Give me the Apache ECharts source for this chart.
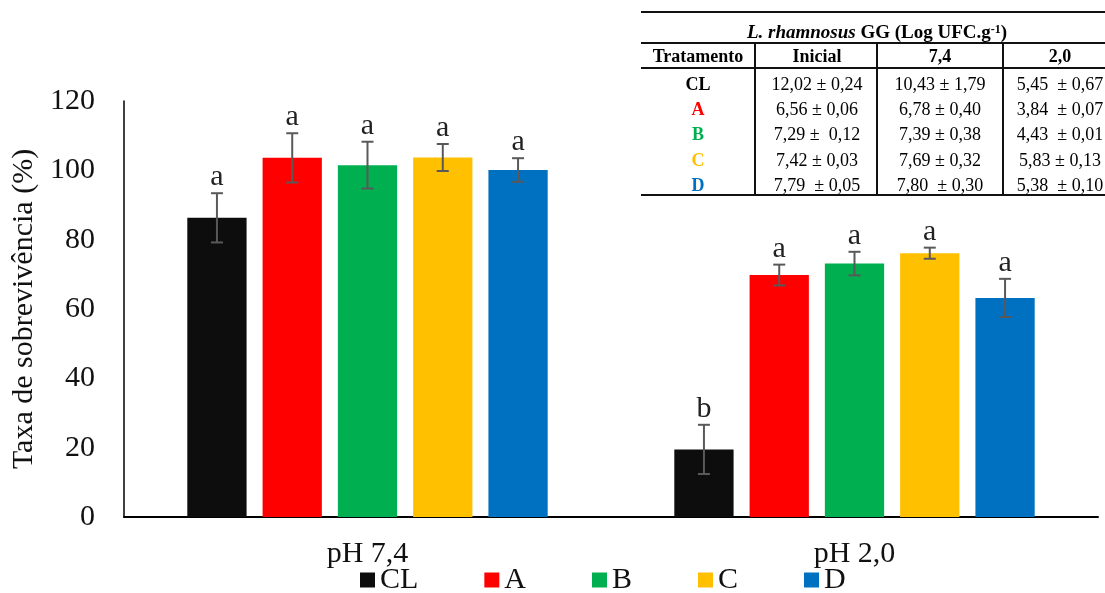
<!DOCTYPE html>
<html>
<head>
<meta charset="utf-8">
<script src="https://cdn.jsdelivr.net/npm/echarts@6/dist/echarts.min.js"></script>
<style>
html,body{margin:0;padding:0;background:#fff;}
#chart{width:1105px;height:593px;}
</style>
</head>
<body>
<div id="chart"></div>
<script>
// ---- data ----
const categories = ['pH 7,4', 'pH 2,0'];
const seriesNames = ['CL', 'A', 'B', 'C', 'D'];
const seriesColors = ['#0d0d0d', '#ff0000', '#00b050', '#ffc000', '#0070c0'];
const meanCL = [86.3, 19.5];
const meanA = [103.6, 69.8];
const meanB = [101.5, 73.1];
const meanC = [103.7, 76.1];
const meanD = [100.1, 63.2];
const errCL = [7.1, 7.1];
const errA = [7.1, 3.0];
const errB = [6.75, 3.4];
const errC = [3.9, 1.6];
const errD = [3.4, 5.5];
const lettersCL = ['a', 'b'];
const lettersA = ['a', 'a'];
const lettersB = ['a', 'a'];
const lettersC = ['a', 'a'];
const lettersD = ['a', 'a'];
const yTicks = { min: 0, max: 120, interval: 20 };

const tableTitle = ['L. rhamnosus', ' GG (Log UFC.g', '-1', ')'];
const tableHeaders = ['Tratamento', 'Inicial', '7,4', '2,0'];
const tableRowCL = ['CL', '12,02 ± 0,24', '10,43 ± 1,79', '5,45  ± 0,67'];
const tableRowA = ['A', '6,56 ± 0,06', '6,78 ± 0,40', '3,84  ± 0,07'];
const tableRowB = ['B', '7,29 ±  0,12', '7,39 ± 0,38', '4,43  ± 0,01'];
const tableRowC = ['C', '7,42 ± 0,03', '7,69 ± 0,32', '5,83 ± 0,13'];
const tableRowD = ['D', '7,79  ± 0,05', '7,80  ± 0,30', '5,38  ± 0,10'];

// ---- build ----
const means = [meanCL, meanA, meanB, meanC, meanD];
const errs = [errCL, errA, errB, errC, errD];
const letters = [lettersCL, lettersA, lettersB, lettersC, lettersD];
const tableRows = [tableRowCL, tableRowA, tableRowB, tableRowC, tableRowD];

const FONT = "'Liberation Serif', 'Times New Roman', serif";
const CAT_GAP = 0.26, BAR_GAP = 0.27;

const series = [];
seriesNames.forEach((n, i) => {
  series.push({
    name: n, type: 'bar', data: means[i],
    itemStyle: { color: seriesColors[i] },
    barCategoryGap: (CAT_GAP * 100) + '%', barGap: (BAR_GAP * 100) + '%',
    emphasis: { disabled: true }, animation: false
  });
});
seriesNames.forEach((n, si) => {
  series.push({
    type: 'custom', z: 5, animation: false, silent: true,
    data: means[si].map((m, k) => [k, m, errs[si][k]]),
    renderItem: function (params, api) {
      const cat = api.value(0), mean = api.value(1), err = api.value(2);
      const band = api.size([1, 0])[0];
      const bw = band * (1 - CAT_GAP) / (5 + 4 * BAR_GAP);
      const off = (si - 2) * bw * (1 + BAR_GAP);
      const x = api.coord([cat, mean])[0] + off;
      const yt = api.coord([cat, mean + err])[1];
      const yb = api.coord([cat, mean - err])[1];
      const st = { stroke: '#595959', lineWidth: 2 };
      const cw = 6;
      return {
        type: 'group', children: [
          { type: 'line', shape: { x1: x, y1: yt, x2: x, y2: yb }, style: st },
          { type: 'line', shape: { x1: x - cw, y1: yt, x2: x + cw, y2: yt }, style: st },
          { type: 'line', shape: { x1: x - cw, y1: yb, x2: x + cw, y2: yb }, style: st },
          { type: 'text', x: x, y: yt - 1,
            style: { text: letters[si][params.dataIndex], fill: '#222', font: '30px ' + FONT,
                     align: 'center', verticalAlign: 'bottom', textAlign: 'center', textVerticalAlign: 'bottom' } }
        ]
      };
    }
  });
});

// table graphics
const g = [];
const L = 641, R = 1105;
const colX = [755, 877, 1003];
const colC = [698, 817, 940, 1060];
const rowY = [85, 110, 135, 161, 186];
function hline(y, w) { g.push({ type: 'line', shape: { x1: L, y1: y, x2: R, y2: y }, style: { stroke: '#111', lineWidth: w } }); }
hline(12, 2); hline(43, 2); hline(68, 2); hline(195, 2);
colX.forEach(x => g.push({ type: 'line', shape: { x1: x, y1: 43, x2: x, y2: 195 }, style: { stroke: '#111', lineWidth: 2 } }));
function txt(x, y, t, font, fill) {
  g.push({ type: 'text', x: x, y: y, style: { text: t, font: font, fill: fill || '#000',
    align: 'center', verticalAlign: 'middle', textAlign: 'center', textVerticalAlign: 'middle' } });
}
g.push({ type: 'text', x: 877, y: 33, style: {
  text: '{i|' + tableTitle[0] + '}{b|' + tableTitle[1] + '}{s|' + tableTitle[2] + '}{b|' + tableTitle[3] + '}',
  rich: {
    i: { fontStyle: 'italic', fontWeight: 'bold', fontSize: 19, fontFamily: FONT, fill: '#000', color: '#000' },
    b: { fontWeight: 'bold', fontSize: 19, fontFamily: FONT, fill: '#000', color: '#000' },
    s: { fontWeight: 'bold', fontSize: 12, fontFamily: FONT, fill: '#000', color: '#000', verticalAlign: 'top' }
  },
  align: 'center', verticalAlign: 'middle', textAlign: 'center', textVerticalAlign: 'middle' } });
tableHeaders.forEach((h, i) => txt(colC[i], 57, h, 'bold 18px ' + FONT));
tableRows.forEach((row, r) => {
  row.forEach((c, i) => {
    if (i === 0) txt(colC[0], rowY[r], c, 'bold 18px ' + FONT, seriesColors[r] === '#0d0d0d' ? '#000' : seriesColors[r]);
    else txt(colC[i], rowY[r], c, '18px ' + FONT, '#000');
  });
});

const chart = echarts.init(document.getElementById('chart'), null, { renderer: 'canvas' });
chart.setOption({
  animation: false,
  backgroundColor: '#fff',
  textStyle: { fontFamily: FONT },
  grid: { left: 124, right: 7, top: 101, bottom: 76, containLabel: false },
  legend: {
    data: seriesNames, left: 355, top: 560, itemWidth: 15, itemHeight: 15, itemGap: 66, icon: 'rect',
    textStyle: { fontSize: 30, fontFamily: FONT, color: '#111' }, selectedMode: false
  },
  xAxis: {
    type: 'category', data: categories,
    axisLine: { lineStyle: { color: '#000', width: 2 } },
    axisTick: { show: false },
    axisLabel: { fontSize: 30, fontFamily: FONT, color: '#111', margin: 22 }
  },
  yAxis: {
    type: 'value', min: yTicks.min, max: yTicks.max, interval: yTicks.interval,
    name: 'Taxa de sobrevivência (%)', nameLocation: 'middle', nameGap: 76,
    nameTextStyle: { fontSize: 30, fontFamily: FONT, color: '#111' },
    axisLine: { show: true, lineStyle: { color: '#000', width: 1.5 } },
    axisTick: { show: false },
    splitLine: { show: false },
    axisLabel: { fontSize: 30, fontFamily: FONT, color: '#111', margin: 29 }
  },
  series: series,
  graphic: g
});
</script>
</body>
</html>
